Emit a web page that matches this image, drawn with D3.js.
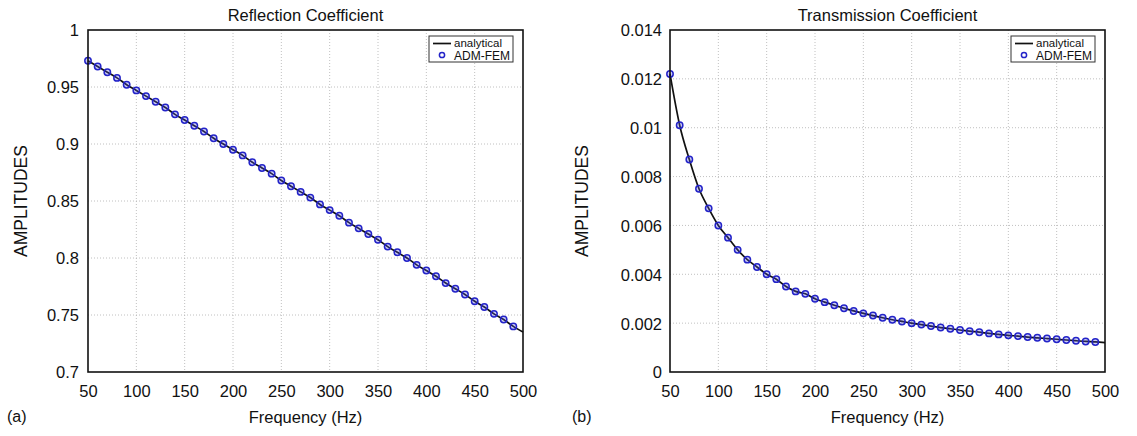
<!DOCTYPE html>
<html>
<head>
<meta charset="utf-8">
<script src="https://cdn.jsdelivr.net/npm/d3@7"></script>
<style>
  html, body { margin: 0; padding: 0; background: #fff; }
  svg { display: block; }
  text { font-family: "Liberation Sans", Arial, Helvetica, sans-serif; fill: #111; }
</style>
</head>
<body>
<svg id="fig" width="1137" height="436"></svg>
<script>
// Frequencies (Hz) for the analytical curve and for the ADM-FEM samples
const freqLine = d3.range(50, 501, 10);
const freqPts = d3.range(50, 491, 10);

// Reflection coefficient, analytical (50..500 Hz)
const reflAnalytical = [
  0.973, 0.968, 0.963, 0.958, 0.952, 0.947, 0.942, 0.937, 0.932, 0.926,
  0.921, 0.916, 0.911, 0.905, 0.900, 0.895, 0.890, 0.884, 0.879, 0.874,
  0.868, 0.863, 0.858, 0.853, 0.847, 0.842, 0.837, 0.831, 0.826, 0.821,
  0.816, 0.810, 0.805, 0.800, 0.794, 0.789, 0.784, 0.778, 0.773, 0.768,
  0.762, 0.757, 0.751, 0.746, 0.740, 0.735
];
// Reflection coefficient, ADM-FEM (50..490 Hz)
const reflFem = [
  0.973, 0.968, 0.963, 0.958, 0.952, 0.947, 0.942, 0.937, 0.932, 0.926,
  0.921, 0.916, 0.911, 0.905, 0.900, 0.895, 0.890, 0.884, 0.879, 0.874,
  0.868, 0.863, 0.858, 0.853, 0.847, 0.842, 0.837, 0.831, 0.826, 0.821,
  0.816, 0.810, 0.805, 0.800, 0.794, 0.789, 0.784, 0.778, 0.773, 0.768,
  0.762, 0.757, 0.751, 0.746, 0.740
];

// Transmission coefficient, analytical (50..500 Hz)
const transAnalytical = [
  0.0122, 0.0101, 0.0087, 0.0075, 0.0067, 0.0060, 0.0055, 0.0050, 0.0046, 0.0043,
  0.0040, 0.0038, 0.0035, 0.0033, 0.0032, 0.0030, 0.00286, 0.00273, 0.00261, 0.0025,
  0.0024, 0.00231, 0.00222, 0.00214, 0.00207, 0.0020, 0.00194, 0.00188, 0.00182, 0.00177,
  0.00172, 0.00167, 0.00163, 0.00158, 0.00154, 0.0015, 0.00147, 0.00143, 0.0014, 0.00137,
  0.00134, 0.00131, 0.00128, 0.00125, 0.00123, 0.0012
];
// Transmission coefficient, ADM-FEM (50..490 Hz)
const transFem = [
  0.0122, 0.0101, 0.0087, 0.0075, 0.0067, 0.0060, 0.0055, 0.0050, 0.0046, 0.0043,
  0.0040, 0.0038, 0.0035, 0.0033, 0.0032, 0.0030, 0.00286, 0.00273, 0.00261, 0.0025,
  0.0024, 0.00231, 0.00222, 0.00214, 0.00207, 0.0020, 0.00194, 0.00188, 0.00182, 0.00177,
  0.00172, 0.00167, 0.00163, 0.00158, 0.00154, 0.0015, 0.00147, 0.00143, 0.0014, 0.00137,
  0.00134, 0.00131, 0.00128, 0.00125, 0.00123
];

// Tick values and labels
const xTicks = [50, 100, 150, 200, 250, 300, 350, 400, 450, 500];
const reflTicks = [0.7, 0.75, 0.8, 0.85, 0.9, 0.95, 1];
const reflTickLabels = ["0.7", "0.75", "0.8", "0.85", "0.9", "0.95", "1"];
const transTicks = [0, 0.002, 0.004, 0.006, 0.008, 0.01, 0.012, 0.014];
const transTickLabels = ["0", "0.002", "0.004", "0.006", "0.008", "0.01", "0.012", "0.014"];

const legendLabels = ["analytical", "ADM-FEM"];

const svg = d3.select("#fig");

function panel(opts) {
  const { left, right, top, bottom } = opts;
  const g = svg.append("g");
  const x = d3.scaleLinear().domain([50, 500]).range([left, right]);
  const y = d3.scaleLinear().domain(opts.yDomain).range([bottom, top]);

  // dotted grid
  const grid = g.append("g").attr("stroke", "#b0b0b0").attr("stroke-width", 0.8)
    .attr("stroke-dasharray", "1,2");
  grid.selectAll(".gx").data(xTicks.slice(1, -1)).join("line")
    .attr("x1", d => x(d)).attr("x2", d => x(d)).attr("y1", top).attr("y2", bottom);
  grid.selectAll(".gy").data(opts.yTicks.slice(1, -1)).join("line")
    .attr("x1", left).attr("x2", right).attr("y1", d => y(d)).attr("y2", d => y(d));

  // axes (labels only; frame drawn separately)
  const xAxis = d3.axisBottom(x).tickValues(xTicks).tickSize(0).tickPadding(0)
    .tickFormat(d3.format("d"));
  const gx = g.append("g").attr("transform", `translate(0,${bottom})`).call(xAxis);
  gx.select(".domain").remove();
  gx.selectAll("text").attr("font-size", 16.5).attr("dy", null).attr("y", 25)
    .attr("font-family", "Liberation Sans, Arial, sans-serif").attr("fill", "#111");

  const yAxis = d3.axisLeft(y).tickValues(opts.yTicks).tickSize(0).tickPadding(0)
    .tickFormat((d, i) => opts.yTickLabels[i]);
  const gy = g.append("g").attr("transform", `translate(${left},0)`).call(yAxis);
  gy.select(".domain").remove();
  gy.selectAll("text").attr("font-size", 16.5).attr("x", -opts.yLabelGap).attr("dy", "0.36em")
    .attr("font-family", "Liberation Sans, Arial, sans-serif").attr("fill", "#111");

  // analytical curve
  const line = d3.line().x(d => x(d[0])).y(d => y(d[1])).curve(d3.curveMonotoneX);
  g.append("path")
    .datum(freqLine.map((f, i) => [f, opts.analytical[i]]))
    .attr("fill", "none").attr("stroke", "#111").attr("stroke-width", 1.7)
    .attr("d", line);

  // ADM-FEM samples
  g.append("g").selectAll("circle")
    .data(freqPts.map((f, i) => [f, opts.fem[i]]))
    .join("circle")
    .attr("cx", d => x(d[0])).attr("cy", d => y(d[1])).attr("r", 3.2)
    .attr("fill", "rgba(90,90,230,0.3)").attr("stroke", "#2323c8").attr("stroke-width", 1.5);

  // frame
  g.append("rect").attr("x", left).attr("y", top)
    .attr("width", right - left).attr("height", bottom - top)
    .attr("fill", "none").attr("stroke", "#111").attr("stroke-width", 1.6);

  // title and axis labels
  g.append("text").attr("x", (left + right) / 2).attr("y", 21)
    .attr("text-anchor", "middle").attr("font-size", 16.5).text(opts.title);
  g.append("text").attr("x", (left + right) / 2).attr("y", 423)
    .attr("text-anchor", "middle").attr("font-size", 16.5).text("Frequency (Hz)");
  g.append("text")
    .attr("transform", `translate(${opts.yTitleX},${(top + bottom) / 2}) rotate(-90)`)
    .attr("text-anchor", "middle").attr("font-size", 17.5).text("AMPLITUDES");
  g.append("text").attr("x", opts.tagX).attr("y", 422)
    .attr("font-family", "Liberation Serif, Times New Roman, serif")
    .attr("font-size", 16).text(opts.tag);

  // legend
  const lw = 84, lh = 26;
  const lx = right - 10 - lw, ly = 36;
  const lg = g.append("g");
  lg.append("rect").attr("x", lx).attr("y", ly).attr("width", lw).attr("height", lh)
    .attr("fill", "#fff").attr("stroke", "#333").attr("stroke-width", 1);
  lg.append("line").attr("x1", lx + 4).attr("x2", lx + 22)
    .attr("y1", ly + 7.5).attr("y2", ly + 7.5)
    .attr("stroke", "#111").attr("stroke-width", 1.7);
  lg.append("text").attr("x", lx + 25).attr("y", ly + 11)
    .attr("font-size", 11.5).attr("fill", "#444").text(legendLabels[0]);
  lg.append("circle").attr("cx", lx + 13).attr("cy", ly + 19).attr("r", 2.6)
    .attr("fill", "none").attr("stroke", "#2323c8").attr("stroke-width", 1.5);
  lg.append("text").attr("x", lx + 25).attr("y", ly + 23.5)
    .attr("font-size", 12).attr("fill", "#111").text(legendLabels[1]);
}

panel({
  left: 88, right: 523, top: 30, bottom: 372,
  yDomain: [0.7, 1], yTicks: reflTicks, yTickLabels: reflTickLabels, yLabelGap: 9,
  analytical: reflAnalytical, fem: reflFem,
  title: "Reflection Coefficient", yTitleX: 27, tag: "(a)", tagX: 7
});

panel({
  left: 670, right: 1105, top: 30, bottom: 372,
  yDomain: [0, 0.014], yTicks: transTicks, yTickLabels: transTickLabels, yLabelGap: 8,
  analytical: transAnalytical, fem: transFem,
  title: "Transmission Coefficient", yTitleX: 588, tag: "(b)", tagX: 572
});
</script>
</body>
</html>
